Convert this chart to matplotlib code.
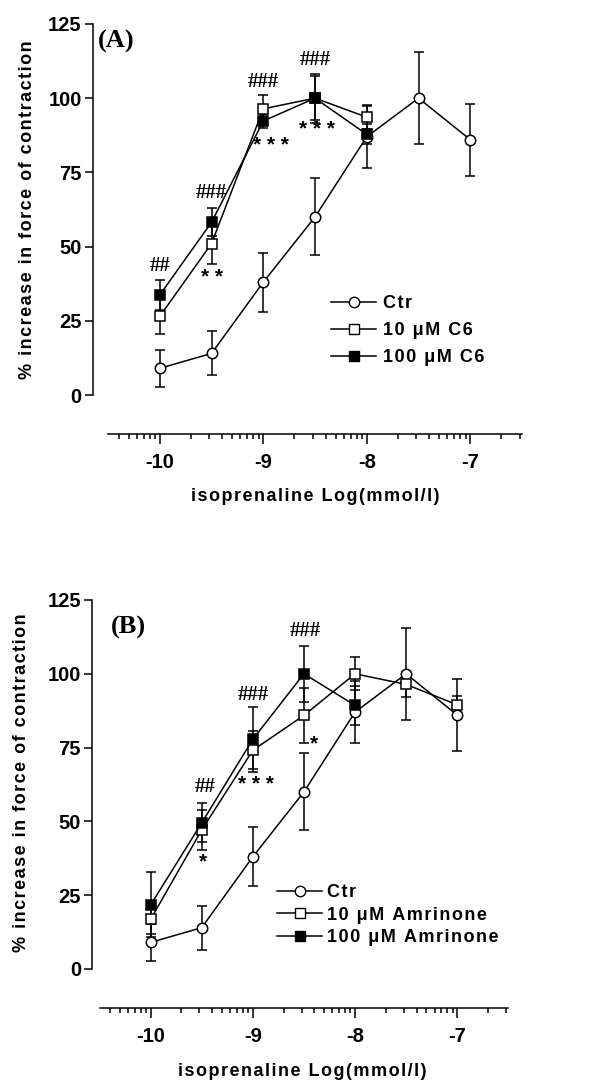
import numpy as np
import matplotlib
matplotlib.use("Agg")
import matplotlib.pyplot as plt
from matplotlib.lines import Line2D

plt.rcParams['font.family'] = ['Liberation Sans', 'DejaVu Sans']
plt.rcParams['font.weight'] = 'bold'
plt.rcParams['axes.unicode_minus'] = False

# data
log_iso = [-10, -9.5, -9, -8.5, -8, -7.5, -7]
ctr = [9, 14, 38, 60, 87, 100, 86]
ctr_err = [6.3, 7.4, 10, 13, 10.5, 15.5, 12.2]

c6_10 = [26.5, 51, 96.4, 100, 93.6]
c6_10_err = [5.8, 7, 4.8, 7.5, 4]
c6_100 = [33.7, 58.2, 92.3, 100, 87.8]
c6_100_err = [5, 4.7, 2.5, 8.2, 3.4]

amr_10 = [16.8, 47.1, 74.1, 85.9, 100, 96.4, 89.5]
amr_10_err = [5, 6.8, 6.5, 9.2, 5.6, 4.3, 3]
amr_100 = [21.7, 49.5, 77.8, 100, 89.3]
amr_100_err = [11, 6.6, 11, 9.5, 6.5]

# significance marks: (x, y, text)
marks_A_hash = [(-10, 43.5, '##'), (-9.5, 68, '###'), (-9, 105.5, '###'), (-8.5, 113, '###')]
marks_A_star = [(-9.5, 39.5, '**'), (-8.93, 84, '***'), (-8.48, 89.5, '***')]
marks_B_hash = [(-9.47, 61.7, '##'), (-9, 92.7, '###'), (-8.49, 114.4, '###')]
marks_B_star = [(-8.97, 62.5, '***'), (-8.4, 76.4, '*'), (-9.49, 36.3, '*')]

HS = '\u200a'


def spaced(s):
    return HS.join(s)


fig = plt.figure(figsize=(6.12, 10.84), dpi=100)
axA = fig.add_axes([0.1765, 0.6356, 0.6765, 0.3423])
axB = fig.add_axes([0.1626, 0.1061, 0.668, 0.3404])


def series(ax, x, y, err, marker, face):
    ax.errorbar(x, y, yerr=err, color='black', lw=1.1, elinewidth=1.1,
                capsize=3.4, capthick=1.1, marker=marker, ms=7.5 if marker == 'o' else 7,
                mfc=face, mec='black', mew=1.1, clip_on=False, zorder=3)


def style(ax, left_out):
    ax.set_xlim(-10.5, -6.5)
    ax.set_ylim(0, 125)
    ax.spines['top'].set_visible(False)
    ax.spines['right'].set_visible(False)
    ax.spines['left'].set_position(('outward', left_out))
    ax.spines['bottom'].set_position(('outward', 28))
    ax.spines['left'].set_linewidth(1.1)
    ax.spines['bottom'].set_linewidth(1.1)
    ax.set_yticks([0, 25, 50, 75, 100, 125])
    ax.set_xticks([-10, -9, -8, -7])
    minors = []
    for n in range(-11, -6):
        for k in range(2, 10):
            p = n + np.log10(k)
            if -10.5 <= p <= -6.5:
                minors.append(p)
    ax.set_xticks(minors, minor=True)
    ax.tick_params(axis='y', length=6, width=1.1, pad=2, labelsize=14.5)
    ax.tick_params(axis='x', which='major', length=7, width=1.1, pad=7, labelsize=14.5)
    ax.tick_params(axis='x', which='minor', length=3.6, width=1.1)
    ax.set_ylabel(spaced('% increase in force of contraction'), fontsize=13, fontweight='bold')
    ax.set_xlabel(spaced('isoprenaline Log(mmol/l)'), fontsize=13, fontweight='bold')


# panel A
series(axA, log_iso, ctr, ctr_err, 'o', 'white')
series(axA, log_iso[:5], c6_10, c6_10_err, 's', 'white')
series(axA, log_iso[:5], c6_100, c6_100_err, 's', 'black')
style(axA, 11)
axA.yaxis.set_label_coords(-0.174, 0.5)
axA.xaxis.set_label_coords(0.5, -0.251)
axA.text(-10.42, 119, '(A)', family='Liberation Serif', fontsize=19, fontweight='bold',
         ha='center', va='center')
for x, y, t in marks_A_hash:
    axA.text(x, y, t, family='Liberation Serif', fontsize=15, fontweight='bold', ha='center', va='center')
for x, y, t in marks_A_star:
    axA.text(x, y, ' '.join(t), fontsize=15, fontweight='bold', ha='center', va='center')

hA = [Line2D([], [], color='black', lw=1.1, marker='o', ms=7.5, mfc='white', mec='black'),
      Line2D([], [], color='black', lw=1.1, marker='s', ms=7, mfc='white', mec='black'),
      Line2D([], [], color='black', lw=1.1, marker='s', ms=7, mfc='black', mec='black')]
axA.legend(hA, [spaced('Ctr'), spaced('10 μM C6'), spaced('100 μM C6')], loc='center left',
           bbox_to_anchor=(0.539, 0.173), frameon=False, fontsize=13,
           handlelength=2.5, handletextpad=0.35, labelspacing=0.55,
           borderpad=0, borderaxespad=0)

# panel B
series(axB, log_iso, ctr, ctr_err, 'o', 'white')
series(axB, log_iso, amr_10, amr_10_err, 's', 'white')
series(axB, log_iso[:5], amr_100, amr_100_err, 's', 'black')
style(axB, 5.4)
axB.yaxis.set_label_coords(-0.17, 0.504)
axB.xaxis.set_label_coords(0.496, -0.255)
axB.text(-10.22, 115.8, '(B)', family='Liberation Serif', fontsize=19, fontweight='bold',
         ha='center', va='center')
for x, y, t in marks_B_hash:
    axB.text(x, y, t, family='Liberation Serif', fontsize=15, fontweight='bold', ha='center', va='center')
for x, y, t in marks_B_star:
    axB.text(x, y, ' '.join(t), fontsize=15, fontweight='bold', ha='center', va='center')

axB.legend(hA, [spaced('Ctr'), spaced('10 μM Amrinone'), spaced('100 μM Amrinone')], loc='center left',
           bbox_to_anchor=(0.434, 0.146), frameon=False, fontsize=13,
           handlelength=2.5, handletextpad=0.3, labelspacing=0.3,
           borderpad=0, borderaxespad=0)

fig.savefig('out.png', dpi=100)
